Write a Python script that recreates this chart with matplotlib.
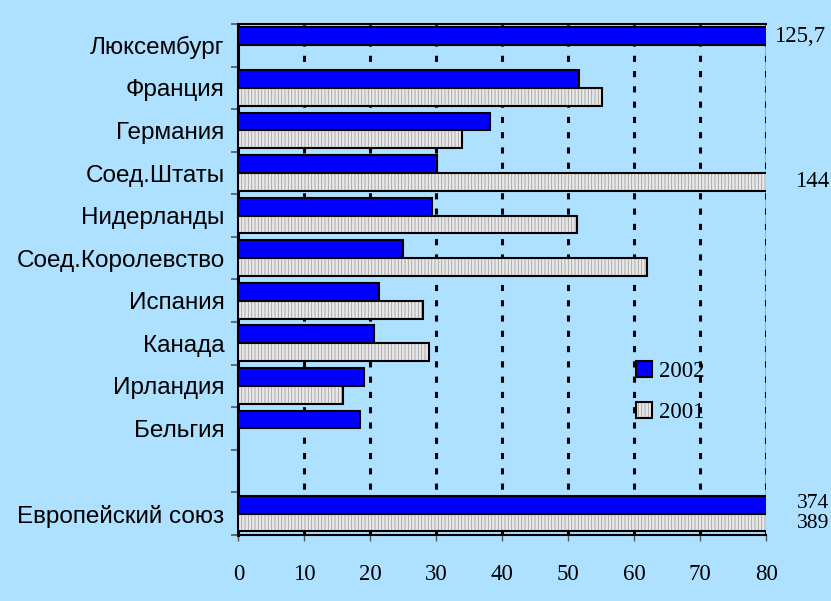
import numpy as np
import matplotlib
matplotlib.use("Agg")
import matplotlib.pyplot as plt
from matplotlib.patches import Patch
from matplotlib.legend_handler import HandlerTuple

# данные (страны сверху вниз), пустая строка - разрыв перед ЕС
countries = ['Люксембург', 'Франция', 'Германия', 'Соед.Штаты', 'Нидерланды',
             'Соед.Королевство', 'Испания', 'Канада', 'Ирландия', 'Бельгия',
             '', 'Европейский союз']
v2002 = [125.7, 51.6, 38.1, 30.1, 29.3, 25.0, 21.3, 20.6, 19.1, 18.4, np.nan, 374]
v2001 = [np.nan, 55.1, 33.9, 144, 51.3, 62.0, 28.0, 28.9, 15.8, np.nan, np.nan, 389]
xticks = [0, 10, 20, 30, 40, 50, 60, 70, 80]
# подписи для столбцов, вылезающих за шкалу
over_labels = [('125,7', 0, -0.21, 'left'), ('144', 3, 0.21, 'right'),
               ('374', 11, -0.24, 'right'), ('389', 11, 0.24, 'right')]

bg = '#aee0ff'
blue = '#0000ff'
grey = '#e8e8e8'
h = 0.42
plt.rcParams['hatch.linewidth'] = 0.6

fig = plt.figure(figsize=(8.31, 6.01), dpi=100, facecolor=bg)
ax = fig.add_axes([0.287, 0.110, 0.635, 0.850], facecolor=bg)

y = np.arange(len(countries))
ax.barh(y - h / 2, v2002, height=h, color=blue, edgecolor='black', linewidth=1.5, zorder=3)
# серые: сначала штриховка серым, потом черная рамка
ax.barh(y + h / 2, v2001, height=h, color=grey, edgecolor='#a0a0a0', linewidth=0,
        hatch='|||||', zorder=3)
ax.barh(y + h / 2, v2001, height=h, fill=False, edgecolor='black', linewidth=1.5, zorder=4)

ax.set_xlim(0, 80)
ax.set_ylim(len(countries) - 0.5, -0.5)

for xv in xticks[1:]:
    ax.axvline(xv, color='black', lw=2.2, linestyle=(0, (2, 3)), zorder=1)
ax.axvline(80, color='black', lw=1.0, zorder=1)

ax.set_xticks(xticks)
ax.set_xticklabels([str(t) for t in xticks], family='Liberation Serif', fontsize=16.5)
ax.tick_params(axis='x', direction='out', length=4, width=1, color='#555555', pad=17)

ax.set_yticks(y)
ax.set_yticklabels(countries, family='Liberation Sans', fontsize=17.5)
ax.set_yticks(np.arange(len(countries) + 1) - 0.5, minor=True)
ax.tick_params(axis='y', which='major', length=0, pad=10)
ax.tick_params(axis='y', which='minor', direction='out', length=5, width=1.2, color='#555555')

for s in ['top', 'bottom']:
    ax.spines[s].set_linewidth(1.5)
ax.spines['left'].set_linewidth(2.2)
ax.spines['right'].set_visible(False)

tr = ax.get_yaxis_transform()
for txt, i, off, ha in over_labels:
    xpos = 1.014 if ha == 'left' else 1.12
    ax.text(xpos, i + off, txt, transform=tr, ha=ha, va='center',
            family='Liberation Serif', fontsize=16.5 if i < 11 else 15.5, clip_on=False)

h02 = Patch(facecolor=blue, edgecolor='black', linewidth=1.5)
h01a = Patch(facecolor=grey, edgecolor='#a0a0a0', linewidth=0, hatch='|||||')
h01b = Patch(fill=False, edgecolor='black', linewidth=1.5)
ax.legend([h02, (h01a, h01b)], ['2002', '2001'],
          handler_map={tuple: HandlerTuple(ndivide=1)},
          loc='upper left', bbox_to_anchor=(0.715, 0.380), frameon=False,
          prop={'family': 'Liberation Serif', 'size': 16.5},
          handlelength=0.7, handleheight=0.7, handletextpad=0.3, labelspacing=0.85)

fig.savefig('out.png', dpi=100, facecolor=bg)
